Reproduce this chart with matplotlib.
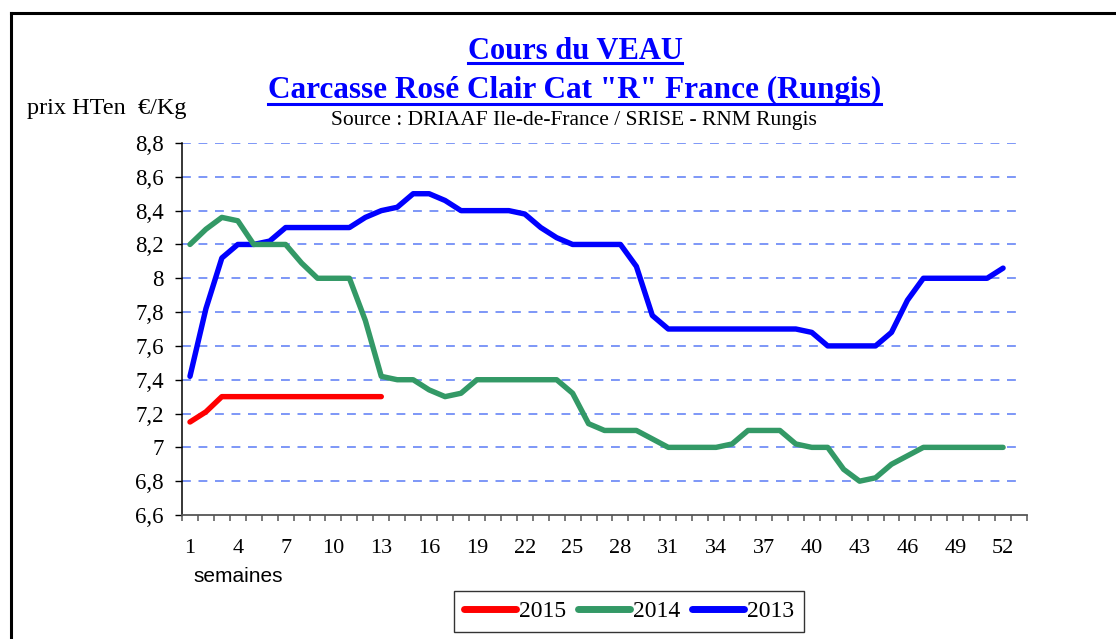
import matplotlib
matplotlib.use('Agg')
import matplotlib.pyplot as plt
from matplotlib.lines import Line2D
import numpy as np

# DATA
weeks = np.arange(1, 53)
v2013 = [7.42, 7.82, 8.12, 8.2, 8.2, 8.22, 8.3, 8.3, 8.3, 8.3,
         8.3, 8.36, 8.4, 8.42, 8.5, 8.5, 8.46, 8.4, 8.4, 8.4,
         8.4, 8.38, 8.3, 8.24, 8.2, 8.2, 8.2, 8.2, 8.07, 7.78,
         7.7, 7.7, 7.7, 7.7, 7.7, 7.7, 7.7, 7.7, 7.7, 7.68,
         7.6, 7.6, 7.6, 7.6, 7.68, 7.87, 8.0, 8.0, 8.0, 8.0,
         8.0, 8.06]
v2014 = [8.2, 8.29, 8.36, 8.34, 8.2, 8.2, 8.2, 8.09, 8.0, 8.0,
         8.0, 7.75, 7.42, 7.4, 7.4, 7.34, 7.3, 7.32, 7.4, 7.4,
         7.4, 7.4, 7.4, 7.4, 7.32, 7.14, 7.1, 7.1, 7.1, 7.05,
         7.0, 7.0, 7.0, 7.0, 7.02, 7.1, 7.1, 7.1, 7.02, 7.0,
         7.0, 6.87, 6.8, 6.82, 6.9, 6.95, 7.0, 7.0, 7.0, 7.0,
         7.0, 7.0]
v2015 = [7.15, 7.21, 7.3, 7.3, 7.3, 7.3, 7.3, 7.3, 7.3, 7.3, 7.3, 7.3, 7.3]
xlabels = list(range(1, 53, 3))
yticks = [6.6, 6.8, 7.0, 7.2, 7.4, 7.6, 7.8, 8.0, 8.2, 8.4, 8.6, 8.8]

W, H = 1116, 639
serif = 'Liberation Serif'
fig = plt.figure(figsize=(W / 100, H / 100), dpi=100)
ax = fig.add_axes([182 / W, 1 - 515 / H, (1027 - 182) / W, (515 - 143) / H])

# grid
for y in yticks[1:]:
    ax.plot([0.5, 53.1], [y, y], color='#5a7bf5', lw=1.1, dashes=(5.8, 5), zorder=1)

lw = 3.9
ax.plot(weeks, v2013, color='#0000ff', lw=lw, solid_capstyle='round', solid_joinstyle='round', label='2013', zorder=3)
ax.plot(weeks, v2014, color='#339966', lw=lw, solid_capstyle='round', solid_joinstyle='round', label='2014', zorder=3)
ax.plot(weeks[:len(v2015)], v2015, color='#ff0000', lw=lw, solid_capstyle='round', solid_joinstyle='round', label='2015', zorder=4)

ax.set_xlim(0.5, 53.5)
ax.set_ylim(6.6, 8.8)
ax.spines['top'].set_visible(False)
ax.spines['right'].set_visible(False)
ax.spines['bottom'].set_color('#555555')
ax.spines['bottom'].set_linewidth(1.3)
ax.spines['left'].set_linewidth(1.1)

ax.set_yticks(yticks)
ax.set_yticklabels([('%.1f' % v).replace('.', ',').replace(',0', '') for v in yticks],
                   family=serif, fontsize=16.5)
ax.tick_params(axis='y', length=5, width=1, direction='out', pad=8)

ax.set_xticks(xlabels)
ax.set_xticklabels([str(v) for v in xlabels], family=serif, fontsize=16)
ax.set_xticks(np.arange(0.5, 54, 1), minor=True)
ax.tick_params(axis='x', which='major', length=0, pad=17)
ax.tick_params(axis='x', which='minor', length=4, width=1.1, color='#555555', direction='out')

# texts
fig.text(575 / W, 1 - 59 / H, 'Cours du VEAU', family=serif, fontsize=22, weight='bold',
         color='#0000ff', ha='center', va='baseline')
fig.text(574.5 / W, 1 - 98 / H, 'Carcasse Rosé Clair Cat "R" France (Rungis)', family=serif,
         fontsize=22.5, weight='bold', color='#0000ff', ha='center', va='baseline')
fig.text(573.5 / W, 1 - 125 / H, 'Source : DRIAAF Ile-de-France / SRISE - RNM Rungis',
         family=serif, fontsize=15.5, ha='center', va='baseline')
fig.text(27 / W, 1 - 114 / H, 'prix HTen  €/Kg', family=serif, fontsize=17.5, ha='left', va='baseline')
fig.text(193 / W, 1 - 582 / H, 'semaines', family='Liberation Sans', fontsize=15, ha='left', va='baseline')

# underlines for the title
fig.canvas.draw()
r = fig.canvas.get_renderer()
for t, yu in zip(fig.texts[:2], [63, 104]):
    bb = t.get_window_extent(r)
    fig.add_artist(Line2D([bb.x0 / W, bb.x1 / W], [1 - yu / H, 1 - yu / H], color='#0000ff', lw=2.2))

# border (top and left only visible)
fig.add_artist(Line2D([11 / W, 1.0], [1 - 13 / H, 1 - 13 / H], color='black', lw=2.2))
fig.add_artist(Line2D([11 / W, 11 / W], [0.0, 1 - 13 / H], color='black', lw=2.2))

handles, labels = ax.get_legend_handles_labels()
leg = fig.legend(handles[::-1], labels[::-1], loc='center', bbox_to_anchor=(629 / W, 1 - 611.5 / H),
                 ncol=3, prop={'family': serif, 'size': 17}, frameon=True, fancybox=False,
                 edgecolor='black', handlelength=2.2, handletextpad=0.13, columnspacing=0.5,
                 borderpad=0.4, borderaxespad=0)
leg.get_frame().set_linewidth(1.0)
for l in leg.get_lines():
    l.set_linewidth(5)
    l.set_solid_capstyle('round')

fig.savefig('out.png', dpi=100)
